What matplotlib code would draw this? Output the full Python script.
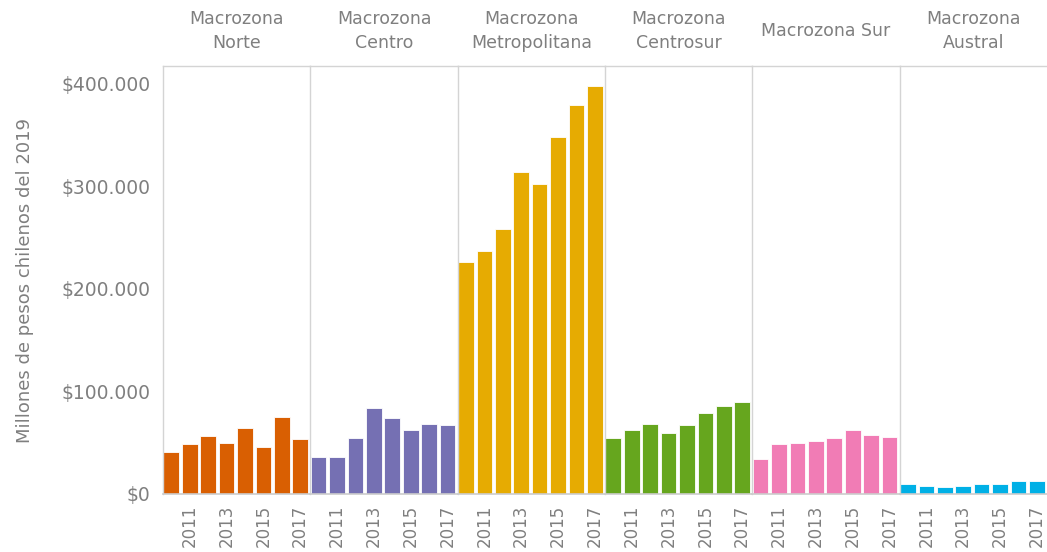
import matplotlib
matplotlib.use("Agg")
import matplotlib.pyplot as plt
from matplotlib.ticker import FuncFormatter

years = [2010, 2011, 2012, 2013, 2014, 2015, 2016, 2017]
zones = ["Macrozona\nNorte", "Macrozona\nCentro", "Macrozona\nMetropolitana",
         "Macrozona\nCentrosur", "Macrozona Sur", "Macrozona\nAustral"]
colors = ["#d95f02", "#7570b3", "#e6ab02", "#66a61e", "#f17cb5", "#00b0e6"]

# millones de pesos chilenos del 2019
norte = [40700, 48500, 56300, 50100, 64100, 45500, 74800, 53300]
centro = [35800, 35800, 54600, 83900, 74500, 62100, 68600, 67000]
metropolitana = [226300, 237400, 258900, 314500, 302100, 348600, 379800, 398400]
centrosur = [54300, 62100, 68600, 59200, 67000, 79300, 85500, 90100]
sur = [34500, 48500, 50100, 51400, 54300, 62100, 57600, 55900]
austral = [9400, 7800, 6500, 7800, 9400, 9400, 12700, 12700]
values = [norte, centro, metropolitana, centrosur, sur, austral]

gray = "#7f7f7f"
plt.rcParams['font.family'] = ['DejaVu Sans']

fig, axes = plt.subplots(1, 6, figsize=(10.47, 5.52), dpi=100, sharey=True)
fig.subplots_adjust(left=0.1557, right=1.0, top=0.8804, bottom=0.1051, wspace=0)

for i, ax in enumerate(axes):
    x = list(range(len(years)))
    ax.bar(x, values[i], width=0.85, color=colors[i], edgecolor="white", linewidth=0.6)
    ax.set_xlim(-0.45, 7.55)
    ax.set_ylim(0, 417500)
    ax.set_xticks(x[1::2])
    ax.set_xticklabels([str(y) for y in years[1::2]], rotation=90, color=gray, fontsize=12)
    ax.tick_params(axis="x", length=0, pad=8)
    ax.tick_params(axis="y", length=0, pad=9, labelsize=13.5, labelcolor=gray)
    for side in ["left", "top"]:
        ax.spines[side].set_color("#d4d4d4")
        ax.spines[side].set_linewidth(1.0)
    ax.spines["right"].set_visible(False)
    ax.spines["bottom"].set_color("#cccccc")
    ax.spines["bottom"].set_linewidth(1.2)
    ax.text(0.5, 1.082, zones[i], transform=ax.transAxes, ha="center", va="center",
            fontsize=12.5, color=gray, linespacing=1.45)

axes[0].set_yticks([0, 100000, 200000, 300000, 400000])
axes[0].yaxis.set_major_formatter(FuncFormatter(lambda v, p: "$" + f"{int(v):,}".replace(",", ".")))
axes[0].set_ylabel("Millones de pesos chilenos del 2019", fontsize=13, color=gray, labelpad=20)

plt.savefig("out.png", dpi=100)
